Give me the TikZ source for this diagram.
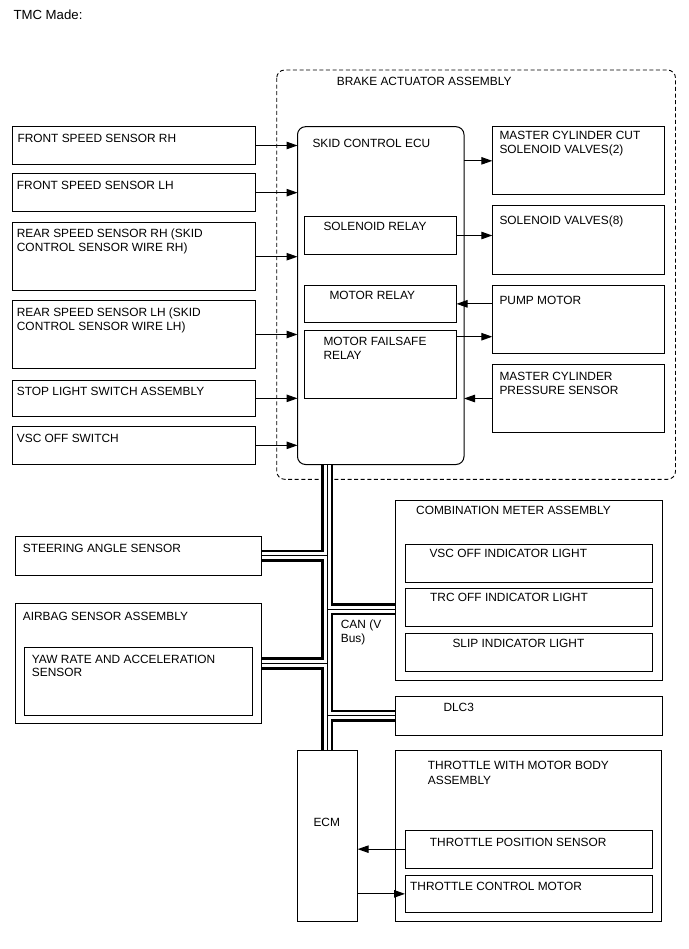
\documentclass[tikz,border=0pt]{standalone}
\usepackage{fontspec}
\setmainfont{Liberation Sans}
\usetikzlibrary{arrows.meta}
\tikzset{
  box/.style={draw, line width=1pt, anchor=north west, inner sep=0pt, outer sep=0pt},
  lbl/.style={anchor=base west, inner sep=0pt, font=\fontsize{11.9}{14}\selectfont},
  arr/.style={line width=1pt, -{Triangle[length=11pt,width=7.5pt]}},
  busa/.style={line width=12.5pt},
  busb/.style={line width=7pt, white},
  busc/.style={line width=0.8pt},
}
\newcommand\bx[6][]{\node[box,#1,minimum width={#5-#3},minimum height={#6-#4}] (#2) at (#3,#4) {};}
\newcommand\tx[4]{\node[lbl] (#1) at (#2,#3) {#4};}
\begin{document}
\begin{tikzpicture}[x=1pt,y=-1pt]
\useasboundingbox (0,0) rectangle (688,949);

\node[lbl, font=\fontsize{13.2}{15}\selectfont] (tmc) at (13.3,19.3) {TMC Made:};

% brake actuator assembly
\draw[line width=0.9pt, dash pattern=on 4pt off 2.6pt, rounded corners=8pt] (276.7,70) rectangle (675.5,479.3);
\tx{bra}{336.7}{85.7}{BRAKE ACTUATOR ASSEMBLY}

% left inputs
\bx{frh}{12.3}{126.7}{255.5}{164.3}
\tx{tfrh}{17.3}{142.7}{FRONT SPEED SENSOR RH}
\bx{flh}{12.3}{173.3}{255.5}{212}
\tx{tflh}{16.7}{190}{FRONT SPEED SENSOR LH}
\bx{rrh}{12.3}{222.7}{255.5}{290.7}
\tx{trrha}{16.7}{237.3}{REAR SPEED SENSOR RH (SKID}
\tx{trrhb}{16.7}{251.7}{CONTROL SENSOR WIRE RH)}
\bx{rlh}{12.3}{300.7}{255.5}{368.3}
\tx{trlha}{16.7}{316.7}{REAR SPEED SENSOR LH (SKID}
\tx{trlhb}{16.7}{330.7}{CONTROL SENSOR WIRE LH)}
\bx{stp}{12.3}{380}{255.5}{416.7}
\tx{tstp}{16.7}{395.3}{STOP LIGHT SWITCH ASSEMBLY}
\bx{vsc}{12.3}{426.7}{255.5}{464}
\tx{tvsc}{16.7}{442.7}{VSC OFF SWITCH}

% skid control ECU
\bx[rounded corners=8pt]{ecu}{297.5}{126.7}{464}{464.5}
\tx{tecu}{312.3}{147.3}{SKID CONTROL ECU}
\bx{sr}{304.5}{216.7}{456.5}{254.3}
\tx{tsr}{323.3}{231}{SOLENOID RELAY}
\bx{mr}{304.5}{285}{456.5}{322.7}
\tx{tmr}{329.3}{299}{MOTOR RELAY}
\bx{mf}{304.5}{330}{456.5}{398}
\tx{tmfa}{323.3}{345}{MOTOR FAILSAFE}
\tx{tmfb}{323.3}{359}{RELAY}

% right actuators
\bx{mcc}{492.3}{126.7}{664}{195}
\tx{tmcca}{499.3}{139.3}{MASTER CYLINDER CUT}
\tx{tmccb}{499.3}{154}{SOLENOID VALVES(2)}
\bx{sv}{492.3}{206}{664}{274.3}
\tx{tsv}{499.3}{225}{SOLENOID VALVES(8)}
\bx{pm}{492.3}{285}{664}{353.3}
\tx{tpm}{499.3}{304}{PUMP MOTOR}
\bx{mcps}{492.3}{364.3}{664}{432.7}
\tx{tmcpsa}{499.3}{380}{MASTER CYLINDER}
\tx{tmcpsb}{499.3}{394}{PRESSURE SENSOR}

% arrows upper part
\foreach \n in {frh,flh,rrh,rlh,stp,vsc}
  \draw[arr] (\n.east) -- (ecu.west |- \n.east);
\draw[arr] (ecu.east |- mcc.west) -- (mcc.west);
\draw[arr] (sr.east) -- (sv.west |- sr.east);
\draw[arr] (pm.west |- mr.east) -- (mr.east);
\draw[arr] ([yshift=-6.7pt]mf.north east) -- ([yshift=-6.7pt]mf.north east -| pm.west);
\draw[arr] (mcps.west) -- (ecu.east |- mcps.west);

% lower part
\bx{sas}{15}{536.7}{261}{575}
\tx{tsas}{22.7}{552.3}{STEERING ANGLE SENSOR}
\bx{abs}{15}{603.7}{261}{723.3}
\tx{tabs}{22.7}{620}{AIRBAG SENSOR ASSEMBLY}
\bx{yaw}{24}{647.3}{252.7}{715.7}
\tx{tyawa}{31.7}{663.3}{YAW RATE AND ACCELERATION}
\tx{tyawb}{31.7}{676.7}{SENSOR}

\bx{cma}{395.3}{500.7}{662}{680.7}
\tx{tcma}{416}{514}{COMBINATION METER ASSEMBLY}
\bx{vsci}{405}{544}{652.3}{582.3}
\tx{tvsci}{429.3}{557.7}{VSC OFF INDICATOR LIGHT}
\bx{trc}{405}{588.7}{652.3}{626.7}
\tx{ttrc}{430}{601.7}{TRC OFF INDICATOR LIGHT}
\bx{slip}{405}{633.3}{652.3}{671}
\tx{tslip}{452.3}{647.7}{SLIP INDICATOR LIGHT}
\bx{dlc}{395.3}{696.7}{662}{735}
\tx{tdlc}{443.3}{711}{DLC3}

\bx{ecm}{297}{750.7}{357.7}{921.7}
\tx{tecm}{313.3}{826.7}{ECM}
\bx{tmb}{395.3}{750.7}{661.7}{921.7}
\tx{ttmba}{427.7}{769.3}{THROTTLE WITH MOTOR BODY}
\tx{ttmbb}{427.7}{784}{ASSEMBLY}
\bx{tps}{405}{830}{652.3}{868.3}
\tx{ttps}{429.7}{846}{THROTTLE POSITION SENSOR}
\bx{tcm}{405}{875}{652.3}{912.7}
\tx{ttcm}{410}{890.7}{THROTTLE CONTROL MOTOR}

\draw[arr] (tps.west) -- (ecm.east |- tps.west);
\draw[arr] (ecm.east |- tcm.west) -- (tcm.west);

% CAN bus
\coordinate (btop) at (327,465);
\coordinate (bbot) at (327,750.2);
\coordinate (j1) at (327,555.8);
\coordinate (j2) at (327,609);
\coordinate (j3) at (327,663.5);
\coordinate (j4) at (327,715.8);
\newcommand\buspath{(btop) -- (bbot)
  (j1) -- ([xshift=0.5pt]sas.east |- j1)
  (j2) -- ([xshift=-0.5pt]cma.west |- j2)
  (j3) -- ([xshift=0.5pt]abs.east |- j3)
  (j4) -- ([xshift=-0.5pt]dlc.west |- j4)}
\draw[busa] \buspath;
\draw[busb] \buspath;
\draw[busc] \buspath;
\tx{tcana}{340.7}{628.3}{CAN (V}
\tx{tcanb}{340.7}{642.3}{Bus)}
\end{tikzpicture}
\end{document}
